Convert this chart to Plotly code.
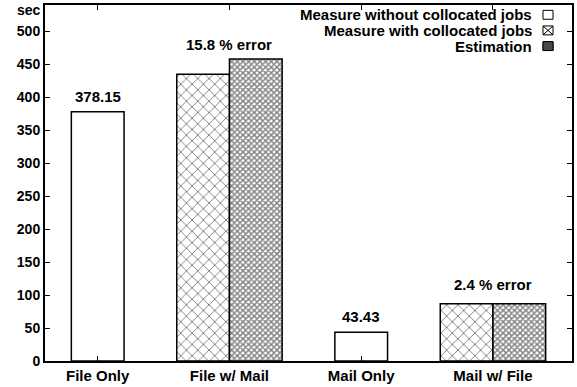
import plotly.graph_objects as go

# Benchmark run times (seconds)
categories = ["File Only", "File w/ Mail", "Mail Only", "Mail w/ File"]
solo_cats = ["File Only", "Mail Only"]
solo_times = [378.15, 43.43]
paired_cats = ["File w/ Mail", "Mail w/ File"]
measured_paired = [435, 87]
estimated_paired = [458, 87]
error_labels = ["15.8 % error", "2.4 % error"]

series_names = [
    "Measure without collocated jobs",
    "Measure with collocated jobs",
    "Estimation",
]

FONT = "Liberation Sans, Arial, Helvetica, sans-serif"
BAR_W = 0.4
LINE = dict(color="black", width=1.5)
error_label_pad = [4, 9]

fig = go.Figure()
fig.add_trace(go.Bar(
    x=solo_cats, y=solo_times, name=series_names[0],
    width=BAR_W, offset=-BAR_W / 2,
    marker=dict(color="white", line=LINE),
))
fig.add_trace(go.Bar(
    x=paired_cats, y=measured_paired, name=series_names[1],
    width=BAR_W, offset=-BAR_W,
    marker=dict(color="white", line=LINE,
                pattern=dict(shape="x", size=8, solidity=0.22,
                             fgcolor="black", bgcolor="white")),
))
fig.add_trace(go.Bar(
    x=paired_cats, y=estimated_paired, name=series_names[2],
    width=BAR_W, offset=0,
    marker=dict(color="white", line=LINE,
                pattern=dict(shape="x", size=4, solidity=0.6,
                             fgcolor="black", bgcolor="white")),
))

annotations = []
# value labels on the solo bars
for c, v in zip(solo_cats, solo_times):
    annotations.append(dict(x=c, y=v, text=f"{v:.2f}", showarrow=False,
                            yanchor="bottom", yshift=5))
# error labels above the paired bars
for c, m, e, lab, pad in zip(paired_cats, measured_paired, estimated_paired,
                             error_labels, error_label_pad):
    annotations.append(dict(x=c, y=max(m, e), text=lab, showarrow=False,
                            yanchor="bottom", yshift=pad))

# y-axis unit label
annotations.append(dict(xref="paper", yref="paper", x=0, y=1, xshift=-3,
                        yshift=4, borderpad=0, font=dict(size=14),
                        text="sec", showarrow=False, xanchor="right",
                        yanchor="top"))

# legend: right-aligned text with the swatch on its right
leg_text_x = 0.926
leg_rows = [0.9725, 0.9286, 0.8846]
sw_x0, sw_x1 = 0.945, 0.964
sw_h = 0.0125
shapes = []
for name, yy in zip(series_names, leg_rows):
    annotations.append(dict(xref="paper", yref="paper", x=leg_text_x, y=yy,
                            text=name, showarrow=False, xanchor="right",
                            yanchor="middle", borderpad=0,
                            font=dict(size=15)))
    shapes.append(dict(type="rect", xref="paper", yref="paper",
                       x0=sw_x0, x1=sw_x1, y0=yy - sw_h, y1=yy + sw_h,
                       line=dict(color="black", width=1), fillcolor="white"))
# swatch hatching
yy = leg_rows[1]
shapes.append(dict(type="line", xref="paper", yref="paper", x0=sw_x0, x1=sw_x1,
                   y0=yy - sw_h, y1=yy + sw_h, line=dict(color="black", width=1)))
shapes.append(dict(type="line", xref="paper", yref="paper", x0=sw_x0, x1=sw_x1,
                   y0=yy + sw_h, y1=yy - sw_h, line=dict(color="black", width=1)))
yy = leg_rows[2]
shapes.append(dict(type="rect", xref="paper", yref="paper",
                   x0=sw_x0, x1=sw_x1, y0=yy - sw_h, y1=yy + sw_h,
                   line=dict(color="black", width=1), fillcolor="#4a4a4a"))

fig.update_layout(
    width=577, height=387,
    margin=dict(l=45, r=3, t=4, b=19),
    paper_bgcolor="white", plot_bgcolor="white",
    barmode="overlay", showlegend=False,
    font=dict(family=FONT, size=15, color="black", weight="bold"),
    annotations=annotations, shapes=shapes,
)
fig.update_xaxes(
    categoryorder="array", categoryarray=categories,
    range=[-0.4, 3.6],
    showline=True, linecolor="black", linewidth=2, mirror="ticks",
    ticks="inside", ticklen=5, tickcolor="black", tickwidth=1,
    showgrid=False, tickfont=dict(size=15, weight="bold"),
)
fig.update_yaxes(
    range=[0, 540], tickvals=list(range(0, 501, 50)),
    showline=True, linecolor="black", linewidth=2, mirror="ticks",
    ticks="inside", ticklen=5, tickcolor="black", tickwidth=1,
    showgrid=False, zeroline=False, tickfont=dict(size=14, weight="bold"),
)

fig.write_html("out.html")
